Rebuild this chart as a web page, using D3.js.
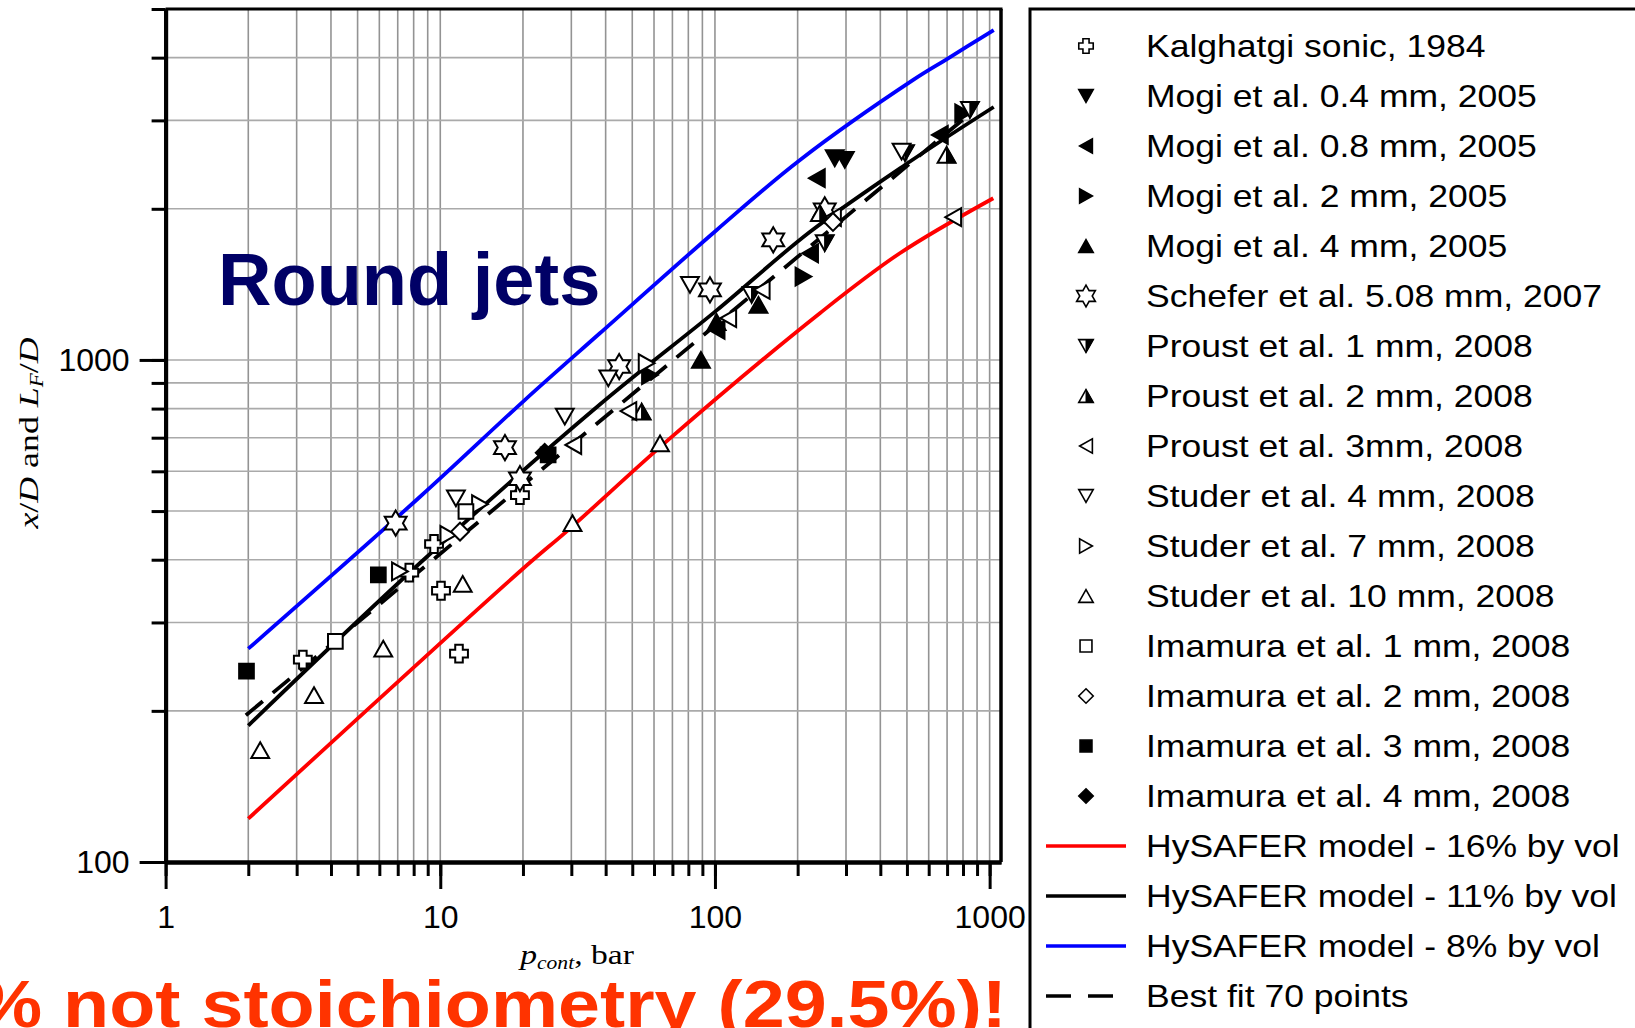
<!DOCTYPE html>
<html lang="en">
<head>
<meta charset="utf-8">
<title>Round jets: flame length versus pressure</title>
<script src="https://cdn.jsdelivr.net/npm/d3@7"></script>
<style>
	html, body { margin: 0; padding: 0; background: #fff; }
	svg { display: block; }
	.tick text { font-family: "Liberation Sans", Arial, sans-serif; font-size: 32px; fill: #000; }
</style>
</head>
<body>
<div id="chart"></div>
<script>
// values: [p_cont in bar, x/D or LF/D]
var kalghatgi = [[3.16, 253], [7.71, 377], [9.49, 430], [10.06, 347], [11.7, 260], [19.5, 538]];
var mogi04 = [[273, 2522], [297, 2502]];
var mogi08 = [[101.4, 1148], [222, 1631], [235, 2301], [659, 2807]];
var mogi2 = [[58.0, 933], [210, 1466], [801, 3099]];
var mogi4 = [[88.9, 1000], [101.4, 1190], [144, 1287]];
var schefer = [[6.88, 473], [17.2, 669], [19.5, 580], [44.8, 970], [95.9, 1379], [163, 1734], [251, 1990]];
var proust1 = [[136, 1348], [251, 1708], [492, 2581], [848, 3147]];
var proust2 = [[54.1, 789], [241, 1960], [697, 2561]];
var proust3 = [[30.5, 677], [48.4, 791], [111.8, 1211], [148, 1379], [269, 1925], [737, 1925]];
var studer4 = [[11.4, 530], [28.4, 771], [40.9, 919], [81.1, 1411], [478, 2600]];
var studer7 = [[7.13, 379], [10.7, 448], [13.95, 516], [56.4, 985]];
var studer10 = [[2.21, 167], [3.47, 215], [6.20, 266], [12.07, 358], [30.3, 473], [63.1, 682]];
var imamura1 = [[4.15, 275], [12.4, 499]];
var imamura2 = [[11.8, 455], [269, 1883]];
var imamura3 = [[1.97, 240], [5.95, 373], [24.7, 647]];
var imamura4 = [[24.0, 653]];

// HySAFER model curves and the best fit line
var hysafer16 = [[2, 122], [19.8, 382], [29.7, 462], [67.6, 693], [241, 1239], [471, 1631], [1031, 2099]];
var hysafer11 = [[2, 187], [8.44, 394], [38.1, 815], [101.4, 1255], [222, 1800], [513, 2484], [1035, 3190]];
var hysafer8 = [[2, 266], [8.44, 534], [20.3, 832], [38.1, 1130], [101.5, 1815], [204, 2502], [527, 3612], [697, 3970], [1035, 4540]];
var bestFit = [[1.96, 196], [870, 3130]];

var legendLabels = [
	"Kalghatgi sonic, 1984",
	"Mogi et al. 0.4 mm, 2005",
	"Mogi et al. 0.8 mm, 2005",
	"Mogi et al. 2 mm, 2005",
	"Mogi et al. 4 mm, 2005",
	"Schefer et al. 5.08 mm, 2007",
	"Proust et al. 1 mm, 2008",
	"Proust et al. 2 mm, 2008",
	"Proust et al. 3mm, 2008",
	"Studer et al. 4 mm, 2008",
	"Studer et al. 7 mm, 2008",
	"Studer et al. 10 mm, 2008",
	"Imamura et al. 1 mm, 2008",
	"Imamura et al. 2 mm, 2008",
	"Imamura et al. 3 mm, 2008",
	"Imamura et al. 4 mm, 2008",
	"HySAFER model - 16% by vol",
	"HySAFER model - 11% by vol",
	"HySAFER model - 8% by vol",
	"Best fit 70 points"
];
var xTickLabels = ["1", "10", "100", "1000"];
var yTickLabels = ["100", "1000"];

var W = 1635, H = 1028;
var plotLeft = 165.6, plotRight = 1001, plotTop = 9, plotBottom = 862;

var x = d3.scaleLog().domain([1, 1100]).range([plotLeft, plotRight]);
var y = d3.scaleLog().domain([100, 5000]).range([plotBottom, plotTop]);

// minor tick positions, one per integer step of each decade
var xMinor = [];
[1, 10, 100].forEach(function(dec) {
	for (var k = 1; k < 10; k++) xMinor.push(k * dec);
});
xMinor.push(1000);
var yMinor = [];
[100, 1000].forEach(function(dec) {
	for (var k = 1; k < 10; k++) if (k * dec <= 5000) yMinor.push(k * dec);
});

var svg = d3.select("#chart").append("svg")
	.attr("width", W)
	.attr("height", H);

svg.append("rect").attr("width", W).attr("height", H).attr("fill", "#fff");

// grid
svg.append("g").selectAll("line")
	.data(xMinor)
	.enter().append("line")
	.attr("x1", function(d) { return x(d); })
	.attr("x2", function(d) { return x(d); })
	.attr("y1", plotTop)
	.attr("y2", plotBottom)
	.attr("stroke", "#939393")
	.attr("stroke-width", 1.6);
svg.append("g").selectAll("line")
	.data(yMinor)
	.enter().append("line")
	.attr("x1", plotLeft)
	.attr("x2", plotRight)
	.attr("y1", function(d) { return y(d); })
	.attr("y2", function(d) { return y(d); })
	.attr("stroke", "#aaaaaa")
	.attr("stroke-width", 1.6);

// top and right frame
svg.append("line").attr("x1", plotLeft).attr("x2", plotRight + 1.5).attr("y1", plotTop).attr("y2", plotTop)
	.attr("stroke", "#000").attr("stroke-width", 3);
svg.append("line").attr("x1", plotRight).attr("x2", plotRight).attr("y1", plotTop).attr("y2", plotBottom)
	.attr("stroke", "#000").attr("stroke-width", 3.5);

// model curves
var line = d3.line()
	.x(function(d) { return x(d[0]); })
	.y(function(d) { return y(d[1]); })
	.curve(d3.curveCatmullRom);

var curves = [
	{data: hysafer16, color: "#ff0000", dash: null},
	{data: hysafer11, color: "#000000", dash: null},
	{data: hysafer8, color: "#0000ff", dash: null},
	{data: bestFit, color: "#000000", dash: "22,13"}
];
svg.append("g").selectAll("path")
	.data(curves)
	.enter().append("path")
	.attr("d", function(d) { return line(d.data); })
	.attr("fill", "none")
	.attr("stroke", function(d) { return d.color; })
	.attr("stroke-width", 3.8)
	.attr("stroke-dasharray", function(d) { return d.dash; });

// marker shapes
function poly(pts) { return "M" + pts.join("L") + "Z"; }
function shapePath(shape, k) {
	var w = 17 * k, h = 15 * k;
	if (shape === "up") return poly([[0, -h / 2], [w / 2, h / 2], [-w / 2, h / 2]]);
	if (shape === "down") return poly([[-w / 2, -h / 2], [w / 2, -h / 2], [0, h / 2]]);
	if (shape === "left") return poly([[-h / 2, 0], [h / 2, -w / 2], [h / 2, w / 2]]);
	if (shape === "right") return poly([[h / 2, 0], [-h / 2, -w / 2], [-h / 2, w / 2]]);
	if (shape === "square") { var s = 7 * k; return poly([[-s, -s], [s, -s], [s, s], [-s, s]]); }
	if (shape === "diamond") { var d = 8.5 * k; return poly([[0, -d], [d, 0], [0, d], [-d, 0]]); }
	if (shape === "plus") {
		var a = 3.6 * k, b = 8.5 * k;
		return poly([[-a, -b], [a, -b], [a, -a], [b, -a], [b, a], [a, a], [a, b], [-a, b], [-a, a], [-b, a], [-b, -a], [-a, -a]]);
	}
	if (shape === "star") {
		var R = 12 * k, r = R / Math.sqrt(3), pts = [];
		for (var i = 0; i < 12; i++) {
			var ang = -Math.PI / 2 + i * Math.PI / 6, rad = (i % 2 === 0) ? R : r;
			pts.push([rad * Math.cos(ang), rad * Math.sin(ang)]);
		}
		return poly(pts);
	}
}
function halfPath(shape, k) {
	var w = 17 * k, h = 15 * k;
	if (shape === "up") return poly([[0, -h / 2], [w / 2, h / 2], [0, h / 2]]);
	return poly([[0, h / 2], [w / 2, -h / 2], [0, -h / 2]]);
}

var markerSeries = [
	{data: kalghatgi, shape: "plus", fill: "open"},
	{data: mogi04, shape: "down", fill: "filled"},
	{data: mogi08, shape: "left", fill: "filled"},
	{data: mogi2, shape: "right", fill: "filled"},
	{data: mogi4, shape: "up", fill: "filled"},
	{data: schefer, shape: "star", fill: "open"},
	{data: proust1, shape: "down", fill: "half"},
	{data: proust2, shape: "up", fill: "half"},
	{data: proust3, shape: "left", fill: "open"},
	{data: studer4, shape: "down", fill: "open"},
	{data: studer7, shape: "right", fill: "open"},
	{data: studer10, shape: "up", fill: "open"},
	{data: imamura1, shape: "square", fill: "open"},
	{data: imamura2, shape: "diamond", fill: "open"},
	{data: imamura3, shape: "square", fill: "filled"},
	{data: imamura4, shape: "diamond", fill: "filled"}
];

function drawMarker(g, s, k, sw) {
	g.append("path")
		.attr("d", shapePath(s.shape, k))
		.attr("fill", s.fill === "filled" ? "#000" : "#fff")
		.attr("stroke", "#000")
		.attr("stroke-width", sw)
		.attr("stroke-linejoin", "miter");
	if (s.fill === "half") {
		g.append("path")
			.attr("d", halfPath(s.shape, k))
			.attr("fill", "#000")
			.attr("stroke", "#000")
			.attr("stroke-width", sw * 0.6);
	}
}

markerSeries.forEach(function(s) {
	svg.append("g").selectAll("g")
		.data(s.data)
		.enter().append("g")
		.attr("transform", function(d) { return "translate(" + x(d[0]) + "," + y(d[1]) + ")"; })
		.each(function() { drawMarker(d3.select(this), s, 1.05, 2); });
});

// axes
var xAxisMinor = d3.axisBottom(x).tickValues(xMinor).tickSize(14).tickSizeOuter(0).tickFormat("");
var xAxisMajor = d3.axisBottom(x).tickValues(xTickLabels.map(Number)).tickSize(27).tickSizeOuter(0)
	.tickPadding(16).tickFormat(function(d, i) { return xTickLabels[i]; });
var yAxisMinor = d3.axisLeft(y).tickValues(yMinor).tickSize(14).tickSizeOuter(0).tickFormat("");
var yAxisMajor = d3.axisLeft(y).tickValues(yTickLabels.map(Number)).tickSize(26).tickSizeOuter(0)
	.tickPadding(10).tickFormat(function(d, i) { return yTickLabels[i]; });

function styleAxis(g) {
	g.select(".domain").attr("stroke", "#000").attr("stroke-width", 4);
	g.selectAll(".tick line").attr("stroke", "#000").attr("stroke-width", 3);
}
svg.append("g").attr("transform", "translate(0," + plotBottom + ")").call(xAxisMinor).call(styleAxis);
svg.append("g").attr("transform", "translate(0," + plotBottom + ")").call(xAxisMajor).call(styleAxis);
svg.append("g").attr("transform", "translate(" + plotLeft + ",0)").call(yAxisMinor).call(styleAxis);
svg.append("g").attr("transform", "translate(" + plotLeft + ",0)").call(yAxisMajor).call(styleAxis);
svg.selectAll(".tick text").attr("font-family", null).attr("font-size", null);

// axis titles
var serif = "'Liberation Serif', 'Times New Roman', serif";
var xt = svg.append("text")
	.attr("transform", "translate(577,964) scale(1.2,1)")
	.attr("text-anchor", "middle")
	.attr("font-family", serif)
	.attr("font-size", 28);
xt.append("tspan").attr("font-style", "italic").text("p");
xt.append("tspan").attr("font-style", "italic").attr("font-size", 18).attr("dy", 5).text("cont");
xt.append("tspan").attr("dy", -5).text(", bar");

var yt = svg.append("text")
	.attr("transform", "translate(38,433) rotate(-90) scale(1.28,1)")
	.attr("text-anchor", "middle")
	.attr("font-family", serif)
	.attr("font-size", 28);
yt.append("tspan").attr("font-style", "italic").text("x");
yt.append("tspan").text("/");
yt.append("tspan").attr("font-style", "italic").text("D");
yt.append("tspan").text(" and ");
yt.append("tspan").attr("font-style", "italic").text("L");
yt.append("tspan").attr("font-style", "italic").attr("font-size", 18).attr("dy", 5).text("F");
yt.append("tspan").attr("dy", -5).text("/");
yt.append("tspan").attr("font-style", "italic").text("D");

// big labels
svg.append("text")
	.attr("x", 218)
	.attr("y", 305)
	.attr("font-family", "'Liberation Sans', Arial, sans-serif")
	.attr("font-weight", "bold")
	.attr("font-size", 74)
	.attr("fill", "#000066")
	.text("Round jets");

svg.append("text")
	.attr("transform", "translate(1007,1027) scale(1.144,1)")
	.attr("text-anchor", "end")
	.attr("font-family", "'Liberation Sans', Arial, sans-serif")
	.attr("font-weight", "bold")
	.attr("font-size", 66)
	.attr("fill", "#ff3300")
	.text("% not stoichiometry (29.5%)!");

// legend
var lg = svg.append("g");
lg.append("rect")
	.attr("x", 1030)
	.attr("y", 9)
	.attr("width", 700)
	.attr("height", 1100)
	.attr("fill", "#fff")
	.attr("stroke", "#000")
	.attr("stroke-width", 3);

var rows = lg.selectAll("g.row")
	.data(legendLabels)
	.enter().append("g")
	.attr("class", "row")
	.attr("transform", function(d, i) { return "translate(0," + (46 + i * 50) + ")"; });

rows.each(function(d, i) {
	var g = d3.select(this);
	if (i < markerSeries.length) {
		var m = g.append("g").attr("transform", "translate(1086,0)");
		var s = markerSeries[i];
		drawMarker(m, s, s.shape === "star" ? 0.9 : 0.85, 1.6);
	} else {
		var c = curves[i - markerSeries.length];
		g.append("line")
			.attr("x1", 1046).attr("x2", c.dash ? 1114 : 1126)
			.attr("y1", 0).attr("y2", 0)
			.attr("stroke", c.color)
			.attr("stroke-width", 3.6)
			.attr("stroke-dasharray", c.dash ? "25,17" : null);
	}
	g.append("text")
		.attr("transform", "translate(1146,11) scale(1.11,1)")
		.attr("font-family", "'Liberation Sans', Arial, sans-serif")
		.attr("font-size", 32)
		.attr("fill", "#000")
		.text(d);
});
</script>
</body>
</html>
